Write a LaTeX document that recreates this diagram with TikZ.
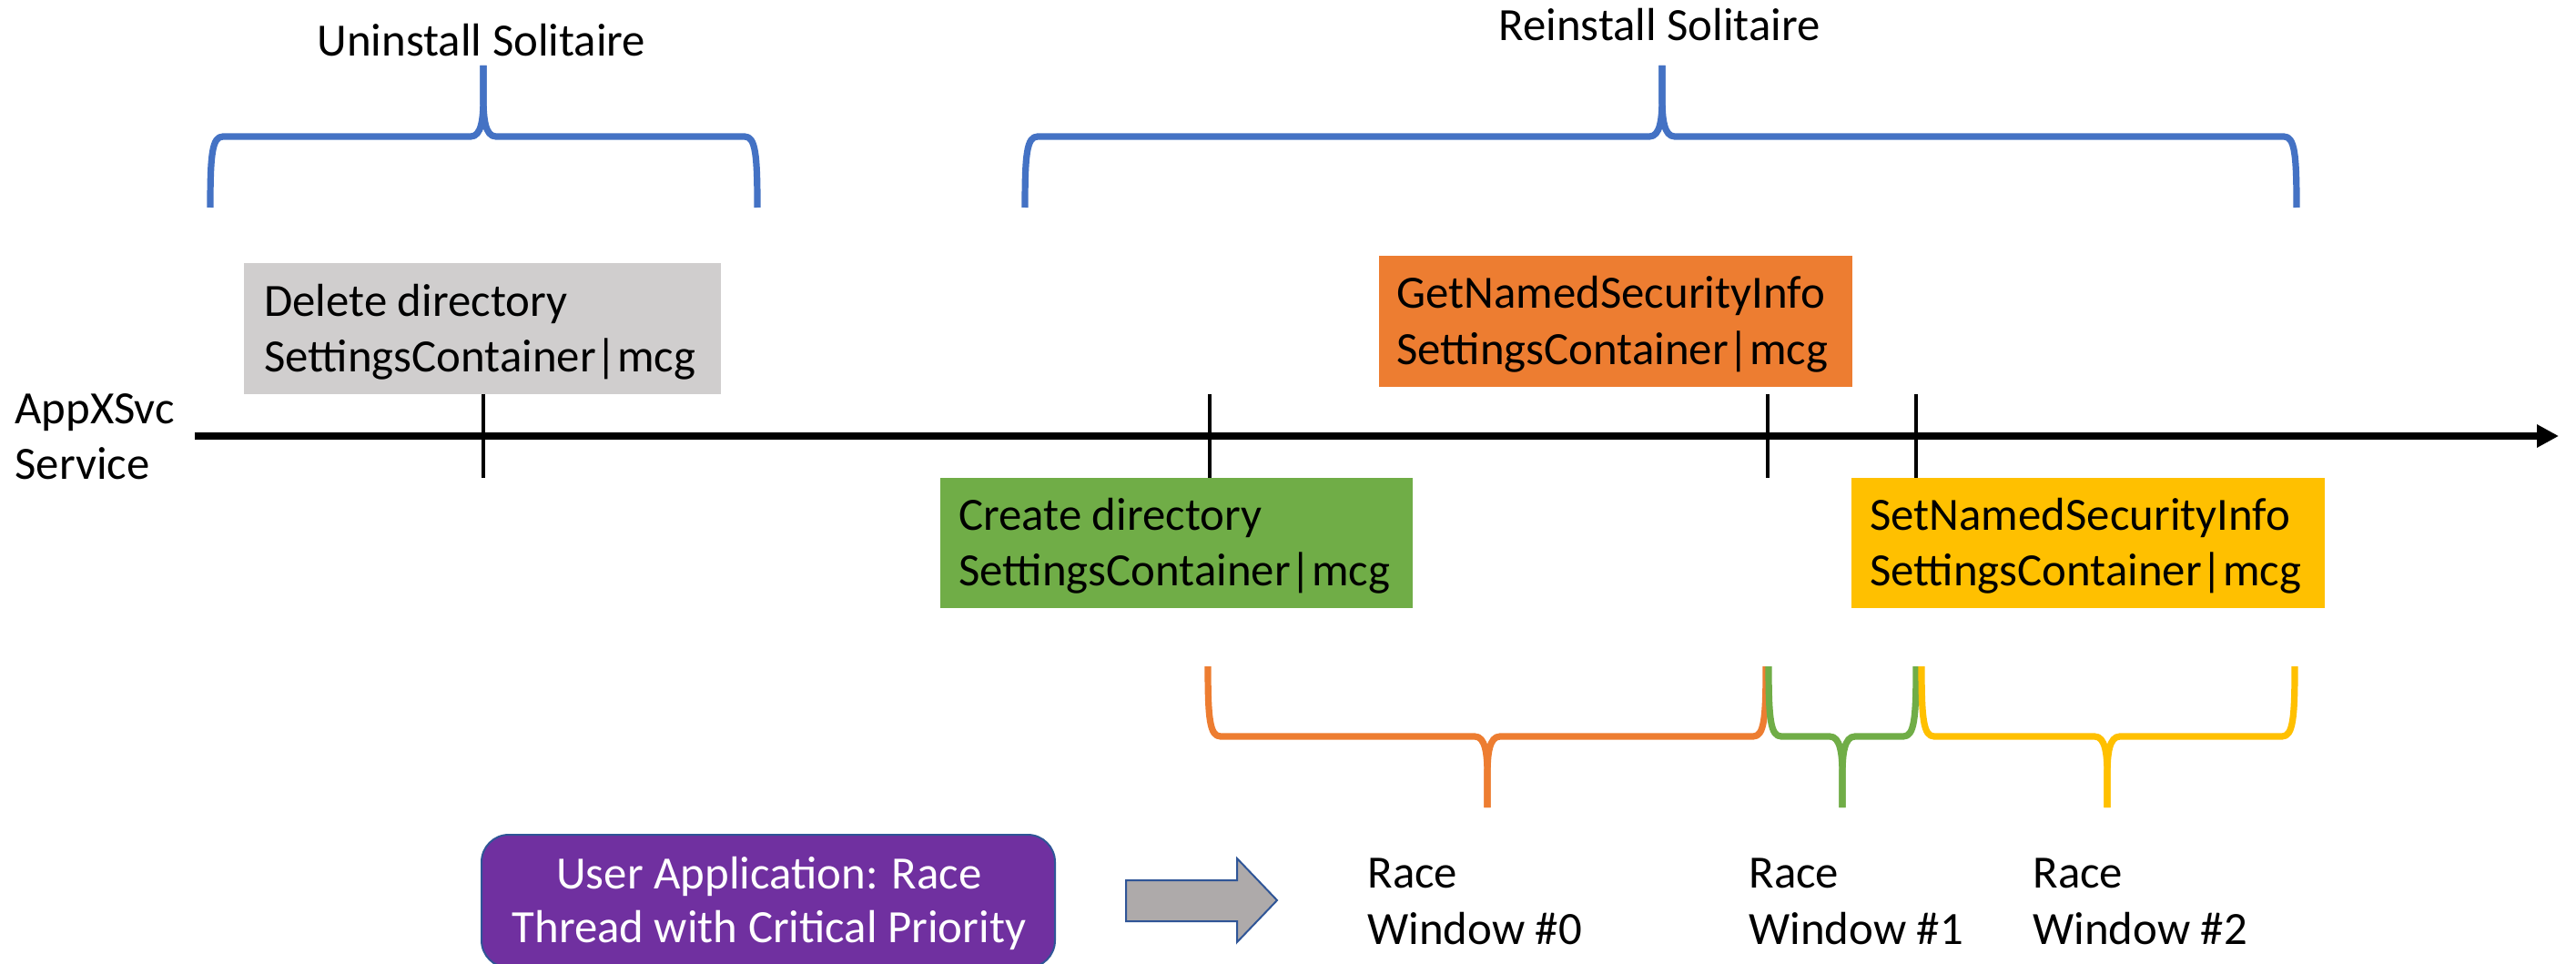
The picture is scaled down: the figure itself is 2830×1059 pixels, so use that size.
\documentclass[tikz,border=0pt]{standalone}
\usepackage{fontspec}
\setmainfont{Carlito}
\usetikzlibrary{arrows.meta}
\definecolor{cgrey}{HTML}{D0CECE}
\definecolor{corange}{HTML}{ED7D31}
\definecolor{cgreen}{HTML}{70AD47}
\definecolor{cyellow}{HTML}{FFC000}
\definecolor{cblue}{HTML}{4472C4}
\definecolor{cpurple}{HTML}{7030A0}
\definecolor{carrowfill}{HTML}{AEAAAA}
\definecolor{cborder}{HTML}{2F5597}
% L R M yEnd yH yTip colour
\newcommand\mybrace[7]{%
  \draw[bracestyle,#7] (#3,#6) -- (#3,{#5+0.55*(#6-#5)})
    .. controls (#3,{#5+0.25*(#6-#5)}) and ({#3-2},#5) .. ({#3-14},#5)
    -- ({#1+14},#5)
    .. controls ({#1+2},#5) and (#1,{#5-0.25*(#6-#5)}) .. (#1,#4);
  \draw[bracestyle,#7] (#3,#6) -- (#3,{#5+0.55*(#6-#5)})
    .. controls (#3,{#5+0.25*(#6-#5)}) and ({#3+2},#5) .. ({#3+14},#5)
    -- ({#2-14},#5)
    .. controls ({#2-2},#5) and (#2,{#5-0.25*(#6-#5)}) .. (#2,#4);
}
\begin{document}
\begin{tikzpicture}[x=0.5pt,y=-0.5pt,
  txt/.style={inner sep=0pt, font=\fontsize{25.4pt}{30.5pt}\selectfont},
  boxstyle/.style={inner sep=0pt, draw=none, rectangle},
  bracestyle/.style={line width=3.6pt, line join=round},
  tickstyle/.style={line width=2.4pt, black},
  timeline/.style={line width=4pt, -{Triangle[length=12pt,width=12pt]}}]
\useasboundingbox (0,0) rectangle (2830,1059);
\fill[white] (0,0) rectangle (2830,1059);
\clip (0,0) rectangle (2830,1059);

% top labels
\node[txt, anchor=base] (uninst) at (529,62) {Uninstall Solitaire};
\node[txt, anchor=base] (reinst) at (1823,45) {Reinstall Solitaire};

% blue braces
\mybrace{231}{832}{531}{228}{150}{72}{cblue}
\mybrace{1126}{2523}{1826}{228}{150}{72}{cblue}

% boxes
\node[boxstyle, fill=cgrey, minimum width=262pt, minimum height=72pt] (delbox) at (530,361) {};
\node[boxstyle, fill=corange, minimum width=260pt, minimum height=72pt] (getbox) at (1775,353) {};
\node[boxstyle, fill=cgreen, minimum width=259.5pt, minimum height=71.5pt] (createbox) at (1292.5,596.5) {};
\node[boxstyle, fill=cyellow, minimum width=260pt, minimum height=71.5pt] (setbox) at (2294,596.5) {};

\node[txt, anchor=base west] (del1) at (290,347) {Delete directory};
\node[txt, anchor=base west] (del2) at (290,408) {SettingsContainer|mcg};
\node[txt, anchor=base west] (get1) at (1534,338) {GetNamedSecurityInfo};
\node[txt, anchor=base west] (get2) at (1534,400) {SettingsContainer|mcg};
\node[txt, anchor=base west] (cre1) at (1053,582) {Create directory};
\node[txt, anchor=base west] (cre2) at (1053,643) {SettingsContainer|mcg};
\node[txt, anchor=base west] (set1) at (2054,582) {SetNamedSecurityInfo};
\node[txt, anchor=base west] (set2) at (2054,643) {SettingsContainer|mcg};

% service label
\node[txt, anchor=base west] (svc1) at (16,465) {AppXSvc};
\node[txt, anchor=base west] (svc2) at (16,526) {Service};

% timeline
\coordinate (tlstart) at (214,479);
\coordinate (tlend) at (2811,479);
\draw[timeline] (tlstart) -- (tlend);

% ticks
\coordinate (k1a) at (531,433);  \coordinate (k1b) at (531,525);
\coordinate (k2a) at (1329,433); \coordinate (k2b) at (1329,525);
\coordinate (k3a) at (1942,433); \coordinate (k3b) at (1942,525);
\coordinate (k4a) at (2105,433); \coordinate (k4b) at (2105,525);
\draw[tickstyle] (k1a) -- (k1b);
\draw[tickstyle] (k2a) -- (k2b);
\draw[tickstyle] (k3a) -- (k3b);
\draw[tickstyle] (k4a) -- (k4b);

% race-window braces
\mybrace{1327}{1940}{1634}{732}{809}{887}{corange}
\mybrace{1943}{2105}{2024}{732}{809}{887}{cgreen}
\mybrace{2111}{2521}{2315}{732}{809}{887}{cyellow}

% race labels
\node[txt, anchor=base west] (rw0a) at (1502,975) {Race};
\node[txt, anchor=base west] (rw0b) at (1502,1037) {Window \#0};
\node[txt, anchor=base west] (rw1a) at (1921,975) {Race};
\node[txt, anchor=base west] (rw1b) at (1921,1037) {Window \#1};
\node[txt, anchor=base west] (rw2a) at (2233,975) {Race};
\node[txt, anchor=base west] (rw2b) at (2233,1037) {Window \#2};

% user application box
\node[boxstyle, fill=cpurple, draw=cborder, line width=1pt, rounded corners=15pt,
      minimum width=315pt, minimum height=73pt] (userbox) at (844,990) {};
\node[txt, anchor=base, text=white] (user1) at (845,976) {User Application: Race};
\node[txt, anchor=base, text=white] (user2) at (845,1035) {Thread with Critical Priority};

% block arrow
\draw[fill=carrowfill, draw=cborder, line width=1pt, line join=miter]
  (1237,967) -- (1359,967) -- (1359,943) -- (1403,989) -- (1359,1035) -- (1359,1012) -- (1237,1012) -- cycle;
\end{tikzpicture}
\end{document}
